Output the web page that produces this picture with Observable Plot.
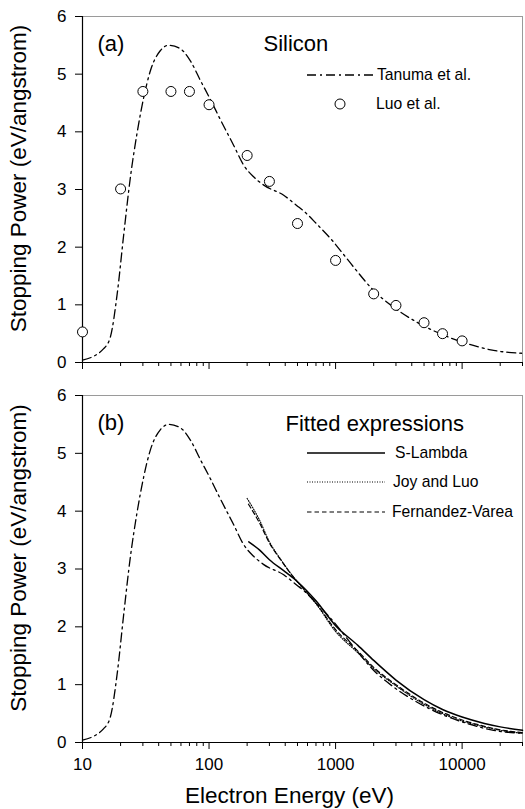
<!DOCTYPE html>
<html>
<head>
<meta charset="utf-8">
<script src="https://cdn.jsdelivr.net/npm/d3@7"></script>
<script src="https://cdn.jsdelivr.net/npm/@observablehq/plot@0.6"></script>
<style>
  html, body { margin: 0; padding: 0; background: #fff; }
  #chart svg { display: block; }
</style>
</head>
<body>
<div id="chart"></div>
<script>
// ---- data ----
const tanumaE  = [10, 14.7, 16.6, 18.8, 21.2, 23.9, 26.9, 30.5, 34.4, 41.3, 47.9, 59.4, 71.2, 85.5, 102, 123, 157, 188, 225, 269, 389, 495, 558, 711, 955, 1150, 1383, 1995, 2870, 4380, 6690, 10900, 17700, 29500];
const tanumaSP = [0.04, 0.24, 0.44, 1.19, 2.23, 3.21, 3.96, 4.6, 5.06, 5.41, 5.5, 5.44, 5.23, 4.89, 4.57, 4.21, 3.76, 3.42, 3.22, 3.08, 2.9, 2.72, 2.63, 2.4, 2.1, 1.88, 1.66, 1.25, 0.96, 0.7, 0.5, 0.33, 0.21, 0.16];

const luoE  = [10, 20, 30, 50, 70, 100, 200, 300, 500, 1000, 2000, 3000, 5000, 7000, 10000];
const luoSP = [0.53, 3.01, 4.7, 4.7, 4.7, 4.47, 3.59, 3.14, 2.41, 1.77, 1.19, 0.99, 0.69, 0.5, 0.375];

const sLambdaE  = [206, 250, 300, 400, 500, 700, 1000, 1500, 2000, 3000, 5000, 7000, 10000, 15000, 20000, 30000];
const sLambdaSP = [3.47, 3.33, 3.16, 2.95, 2.78, 2.45, 2.02, 1.68, 1.42, 1.08, 0.74, 0.57, 0.44, 0.33, 0.27, 0.21];

const joyLuoE  = [200, 250, 300, 365, 465, 560, 700, 1000, 1500, 2000, 3000, 5000, 7000, 10000, 15000, 20000, 30000];
const joyLuoSP = [4.22, 3.85, 3.47, 3.18, 2.86, 2.65, 2.4, 1.92, 1.55, 1.28, 0.98, 0.66, 0.5, 0.37, 0.27, 0.21, 0.16];

const fvE  = [205, 250, 300, 365, 465, 560, 700, 1000, 1500, 2000, 3000, 5000, 7000, 10000, 15000, 20000, 30000];
const fvSP = [4.12, 3.8, 3.45, 3.17, 2.86, 2.66, 2.41, 1.95, 1.58, 1.3, 1.0, 0.68, 0.52, 0.39, 0.28, 0.22, 0.17];

const majorTicksX = [10, 100, 1000, 10000];
const minorTicksX = [20, 30, 40, 50, 60, 70, 80, 90, 200, 300, 400, 500, 600, 700, 800, 900,
                     2000, 3000, 4000, 5000, 6000, 7000, 8000, 9000, 20000, 30000];
const ticksY = [0, 1, 2, 3, 4, 5, 6];

const xTitle = "Electron Energy (eV)";
const yTitle = "Stopping Power (eV/angstrom)";
const panelLabels = ["(a)", "(b)"];
const titleA = "Silicon";
const titleB = "Fitted expressions";
const legendANames = ["Tanuma et al.", "Luo et al."];
const legendBNames = ["S-Lambda", "Joy and Luo", "Fernandez-Varea"];

// ---- tables ----
const zip = (xs, ys) => xs.map((x, i) => ({x, y: ys[i]}));
const tanuma = zip(tanumaE, tanumaSP);
const luo = zip(luoE, luoSP);
const sLambda = zip(sLambdaE, sLambdaSP);
const joyLuo = zip(joyLuoE, joyLuoSP);
const fv = zip(fvE, fvSP);

const FONT = "'Liberation Sans', Arial, Helvetica, sans-serif";
const DASHDOT = "9,4,2,4";
const DOTTED = "1,1.5";
const DASHED = "4.5,3";

function commonMarks(showLabels) {
  return [
    Plot.frame({stroke: "#9a9a9a", strokeWidth: 1}),
    Plot.ruleX([10], {stroke: "black", strokeWidth: 1.2}),
    Plot.ruleY([0], {stroke: "black", strokeWidth: 1.2}),
    Plot.axisY(ticksY, {tickSize: 7, tickPadding: 9, fontSize: 17, label: null, tickFormat: d => String(d)}),
    Plot.axisX(majorTicksX, {tickSize: 7, tickPadding: 8, fontSize: 17, label: null,
      tickFormat: showLabels ? (d => String(d)) : (() => "")}),
    Plot.axisX(minorTicksX, {tickSize: 4, label: null, tickFormat: () => ""}),
    Plot.text([yTitle], {frameAnchor: "left", rotate: -90, dx: -64, dy: -11,
      fontSize: 22.5, textAnchor: "middle", lineAnchor: "middle"})
  ];
}

function legendMark(build) {
  return () => {
    const g = d3.create("svg:g").attr("font-family", FONT).attr("text-anchor", "start");
    build(g);
    return g.node();
  };
}

const scales = {
  x: {type: "log", domain: [10, 30000]},
  y: {domain: [0, 6]}
};

// ---- panel (a) ----  (SVG spans page y 0..375)
const plotA = Plot.plot({
  width: 525, height: 375,
  marginTop: 16, marginBottom: 13, marginLeft: 82, marginRight: 3,
  style: {fontFamily: FONT, fontSize: "17px", background: "white", color: "black"},
  ...scales,
  marks: [
    ...commonMarks(false),
    Plot.line(tanuma, {x: "x", y: "y", stroke: "black", strokeWidth: 1.3, strokeDasharray: DASHDOT, curve: "monotone-x"}),
    Plot.dot(luo, {x: "x", y: "y", r: 5, stroke: "black", strokeWidth: 1, fill: "white"}),
    Plot.text([panelLabels[0]], {frameAnchor: "top-left", dx: 15, dy: 27, fontSize: 22, textAnchor: "start", lineAnchor: "middle"}),
    Plot.text([titleA], {frameAnchor: "top-left", dx: 181, dy: 27, fontSize: 22, textAnchor: "start", lineAnchor: "middle"}),
    legendMark(g => {
      g.append("line").attr("x1", 307).attr("x2", 375).attr("y1", 75).attr("y2", 75)
        .attr("stroke", "black").attr("stroke-width", 1.3).attr("stroke-dasharray", DASHDOT);
      g.append("text").attr("x", 377).attr("y", 75).attr("dy", "0.35em").attr("font-size", 15.7).text(legendANames[0]);
      g.append("circle").attr("cx", 340).attr("cy", 104).attr("r", 5).attr("fill", "white").attr("stroke", "black");
      g.append("text").attr("x", 376).attr("y", 104).attr("dy", "0.35em").attr("font-size", 15.7).text(legendANames[1]);
    })
  ]
});

// ---- panel (b) ----  (SVG spans page y 375..809)
const OFF = 375;
const plotB = Plot.plot({
  width: 525, height: 434,
  marginTop: 20, marginBottom: 67, marginLeft: 82, marginRight: 3,
  style: {fontFamily: FONT, fontSize: "17px", background: "white", color: "black"},
  ...scales,
  marks: [
    ...commonMarks(true),
    Plot.line(tanuma, {x: "x", y: "y", stroke: "black", strokeWidth: 1.3, strokeDasharray: DASHDOT, curve: "monotone-x"}),
    Plot.line(joyLuo, {x: "x", y: "y", stroke: "black", strokeWidth: 1.1, strokeDasharray: DOTTED, curve: "monotone-x"}),
    Plot.line(fv, {x: "x", y: "y", stroke: "black", strokeWidth: 1.2, strokeDasharray: DASHED, curve: "monotone-x"}),
    Plot.line(sLambda, {x: "x", y: "y", stroke: "black", strokeWidth: 1.5, curve: "monotone-x"}),
    Plot.text([panelLabels[1]], {frameAnchor: "top-left", dx: 15, dy: 27, fontSize: 22, textAnchor: "start", lineAnchor: "middle"}),
    Plot.text([titleB], {frameAnchor: "top-left", dx: 203, dy: 28, fontSize: 22, textAnchor: "start", lineAnchor: "middle"}),
    Plot.text([xTitle], {frameAnchor: "bottom", dx: -13, dy: 53, fontSize: 22.5, textAnchor: "middle", lineAnchor: "middle"}),
    legendMark(g => {
      const rows = [
        {y: 453 - OFF, dash: null, w: 1.5, tx: 395},
        {y: 482 - OFF, dash: DOTTED, w: 1.1, tx: 393},
        {y: 512 - OFF, dash: DASHED, w: 1.2, tx: 392}
      ];
      rows.forEach((r, i) => {
        const ln = g.append("line").attr("x1", 307).attr("x2", 385).attr("y1", r.y).attr("y2", r.y)
          .attr("stroke", "black").attr("stroke-width", r.w);
        if (r.dash) ln.attr("stroke-dasharray", r.dash);
        g.append("text").attr("x", r.tx).attr("y", r.y).attr("dy", "0.35em").attr("font-size", 15.7).text(legendBNames[i]);
      });
    })
  ]
});

const chart = document.getElementById("chart");
chart.appendChild(plotA);
chart.appendChild(plotB);
</script>
</body>
</html>
